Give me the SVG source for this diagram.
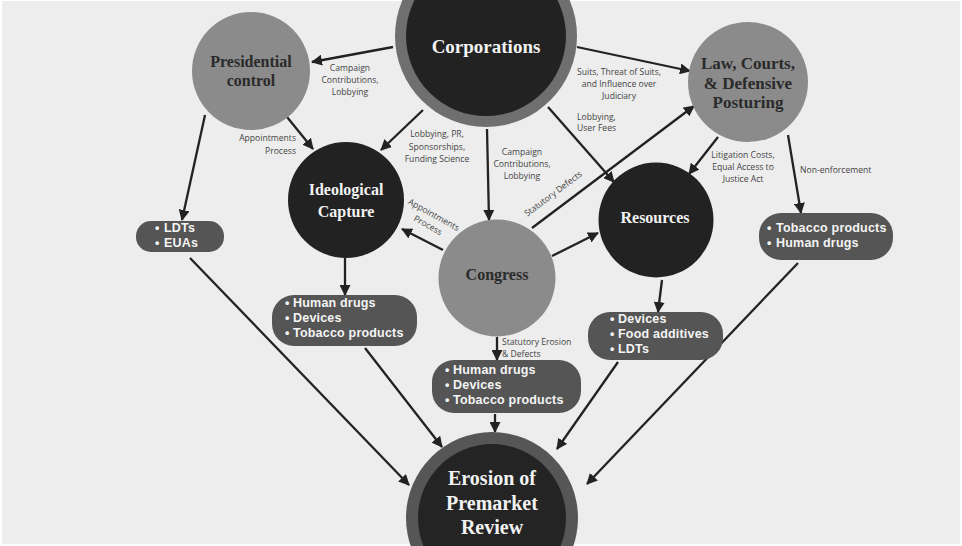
<svg xmlns="http://www.w3.org/2000/svg" width="962" height="546" viewBox="0 0 962 546">
<defs>
<marker id="ah" markerUnits="userSpaceOnUse" markerWidth="11" markerHeight="11" refX="10" refY="5.5" orient="auto">
<path d="M0,0 L11,5.5 L0,11 z" fill="#222"/>
</marker>
<style>
.title{font-family:"Liberation Serif","DejaVu Serif",serif;font-weight:bold;text-anchor:middle}
.dk{fill:#2a2a2a}
.lt{fill:#f2f2f2}
.pill{fill:#555555}
.pt{font-family:"Liberation Sans","Open Sans",sans-serif;font-weight:bold;font-size:12.5px;letter-spacing:0.2px;fill:#f4f4f4}
.lbl{font-family:"Open Sans","Liberation Sans",sans-serif;font-size:8.6px;fill:#444}
.c{text-anchor:middle}
.r{text-anchor:end}
.cn line{stroke:#222;stroke-width:2.3;marker-end:url(#ah)}
</style>
</defs>
<rect x="0" y="0" width="962" height="546" fill="#ffffff"/>
<rect x="2" y="1" width="958" height="543" fill="#ededed"/>

<g id="connectors" class="cn">
<line x1="393" y1="47" x2="312" y2="62"/>
<line x1="287" y1="117" x2="313" y2="149"/>
<line x1="423" y1="110" x2="381" y2="150"/>
<line x1="577" y1="47" x2="690" y2="71"/>
<line x1="548" y1="107" x2="614" y2="182"/>
<line x1="487" y1="129" x2="489" y2="220"/>
<line x1="532" y1="228" x2="694" y2="106"/>
<line x1="443" y1="250" x2="402" y2="229"/>
<line x1="552" y1="256" x2="598" y2="233"/>
<line x1="718" y1="137" x2="689" y2="174"/>
<line x1="788" y1="135" x2="801" y2="213"/>
<line x1="205" y1="115" x2="182" y2="220"/>
<line x1="345" y1="258" x2="345" y2="295"/>
<line x1="497" y1="337" x2="497" y2="360"/>
<line x1="662" y1="280" x2="658" y2="312"/>
<line x1="495" y1="414" x2="495" y2="432"/>
<line x1="190" y1="258" x2="409" y2="485"/>
<line x1="365" y1="348" x2="442" y2="447"/>
<line x1="618" y1="362" x2="557" y2="449"/>
<line x1="798" y1="263" x2="587" y2="484"/>
</g>

<g id="edge-labels">
<text class="lbl c"><tspan x="350" y="71">Campaign</tspan><tspan x="350" y="83">Contributions,</tspan><tspan x="350" y="95">Lobbying</tspan></text>
<text class="lbl r"><tspan x="296" y="141">Appointments</tspan><tspan x="296" y="154">Process</tspan></text>
<text class="lbl c"><tspan x="437" y="137">Lobbying, PR,</tspan><tspan x="437" y="150">Sponsorships,</tspan><tspan x="437" y="162">Funding Science</tspan></text>
<text class="lbl c"><tspan x="619" y="75">Suits, Threat of Suits,</tspan><tspan x="619" y="87">and Influence over</tspan><tspan x="619" y="99">Judiciary</tspan></text>
<text class="lbl"><tspan x="577" y="120">Lobbying,</tspan><tspan x="577" y="131">User Fees</tspan></text>
<text class="lbl c"><tspan x="522" y="155">Campaign</tspan><tspan x="522" y="167">Contributions,</tspan><tspan x="522" y="179">Lobbying</tspan></text>
<text class="lbl c" transform="translate(555,196) rotate(-37)" x="0" y="0">Statutory Defects</text>
<text class="lbl c" transform="translate(431,220) rotate(29)"><tspan x="0" y="-3">Appointments</tspan><tspan x="0" y="9">Process</tspan></text>
<text class="lbl c"><tspan x="743" y="158">Litigation Costs,</tspan><tspan x="743" y="170">Equal Access to</tspan><tspan x="743" y="182">Justice Act</tspan></text>
<text class="lbl" x="800" y="173">Non-enforcement</text>
<text class="lbl"><tspan x="502" y="345">Statutory Erosion</tspan><tspan x="502" y="357">&amp; Defects</tspan></text>
</g>

<g id="corporations">
<circle cx="486" cy="36" r="91" fill="#6f6f6f"/>
<circle cx="486" cy="36" r="80" fill="#222222"/>
<text class="title lt" x="486" y="53" font-size="19">Corporations</text>
</g>

<g id="presidential-control">
<circle cx="251" cy="71" r="59" fill="#8b8b8b"/>
<text class="title dk" font-size="16"><tspan x="251" y="67">Presidential</tspan><tspan x="251" y="86">control</tspan></text>
</g>

<g id="law-courts">
<circle cx="748" cy="82" r="60" fill="#8b8b8b"/>
<text class="title dk" font-size="17"><tspan x="748" y="69">Law, Courts,</tspan><tspan x="748" y="89">&amp; Defensive</tspan><tspan x="748" y="108">Posturing</tspan></text>
</g>

<g id="ideological-capture">
<circle cx="346" cy="200" r="58" fill="#222222"/>
<text class="title lt" font-size="16"><tspan x="346" y="195">Ideological</tspan><tspan x="346" y="217">Capture</tspan></text>
</g>

<g id="congress">
<circle cx="497" cy="278" r="58.5" fill="#8b8b8b"/>
<text class="title dk" x="497" y="280" font-size="16">Congress</text>
</g>

<g id="resources">
<circle cx="656" cy="220" r="57.5" fill="#222222"/>
<text class="title lt" x="655" y="223" font-size="16">Resources</text>
</g>

<g id="erosion">
<circle cx="492" cy="518" r="86" fill="#565656"/>
<circle cx="492" cy="518" r="74" fill="#242424"/>
<text class="title lt" font-size="20"><tspan x="492" y="485">Erosion of</tspan><tspan x="492" y="510">Premarket</tspan><tspan x="492" y="534">Review</tspan></text>
</g>

<g id="pill-ldts">
<rect class="pill" x="136" y="221" width="88" height="31" rx="15"/>
<text class="pt"><tspan x="155" y="232">•</tspan><tspan x="164" y="232">LDTs</tspan><tspan x="155" y="247">•</tspan><tspan x="164" y="247">EUAs</tspan></text>
</g>

<g id="pill-ideological">
<rect class="pill" x="272" y="295" width="145" height="51" rx="22"/>
<text class="pt"><tspan x="285" y="307">•</tspan><tspan x="293" y="307">Human drugs</tspan><tspan x="285" y="322">•</tspan><tspan x="293" y="322">Devices</tspan><tspan x="285" y="337">•</tspan><tspan x="293" y="337">Tobacco products</tspan></text>
</g>

<g id="pill-congress">
<rect class="pill" x="432" y="360" width="149" height="53" rx="22"/>
<text class="pt"><tspan x="445" y="374">•</tspan><tspan x="453" y="374">Human drugs</tspan><tspan x="445" y="389">•</tspan><tspan x="453" y="389">Devices</tspan><tspan x="445" y="404">•</tspan><tspan x="453" y="404">Tobacco products</tspan></text>
</g>

<g id="pill-resources">
<rect class="pill" x="588" y="312" width="135" height="48" rx="22"/>
<text class="pt"><tspan x="610" y="323">•</tspan><tspan x="618" y="323">Devices</tspan><tspan x="610" y="338">•</tspan><tspan x="618" y="338">Food additives</tspan><tspan x="610" y="353">•</tspan><tspan x="618" y="353">LDTs</tspan></text>
</g>

<g id="pill-law">
<rect class="pill" x="759" y="213" width="134" height="47" rx="22"/>
<text class="pt"><tspan x="767" y="232">•</tspan><tspan x="776" y="232">Tobacco products</tspan><tspan x="767" y="247">•</tspan><tspan x="776" y="247">Human drugs</tspan></text>
</g>
</svg>
